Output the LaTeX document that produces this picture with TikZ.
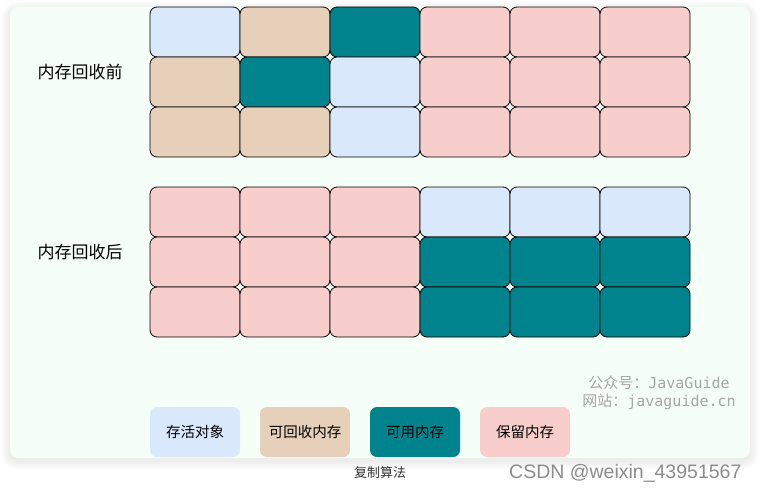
\documentclass[tikz,border=0pt]{standalone}
\usepackage{fontspec}
\setmainfont{Noto Sans CJK SC}
\newfontfamily\monofont{DejaVu Sans Mono}
\newfontfamily\csdnfont{Liberation Sans}
\usepackage{tikz}
\usetikzlibrary{positioning}

\definecolor{liveblue}{HTML}{DAE8FC}
\definecolor{freetan}{HTML}{E6D0B9}
\definecolor{usedteal}{HTML}{00838C}
\definecolor{keeppink}{HTML}{F8CECC}
\definecolor{panelgreen}{HTML}{F5FFF7}
\definecolor{markgray}{HTML}{A6A6A6}

\begin{document}
\begin{tikzpicture}[x=1pt,y=-1pt]

\tikzset{
  % one memory block of the grid
  cell/.style={draw=black, line width=0.8pt, rounded corners=7pt,
    minimum width=90pt, minimum height=50pt, inner sep=0pt, outer sep=0pt},
  % legend boxes below the grids
  legendbox/.style={rounded corners=7pt, minimum width=90pt, minimum height=50pt,
    inner sep=0pt, font=\fontsize{14.5}{16}\selectfont},
  rowlabel/.style={font=\fontsize{17}{19}\selectfont},
}

\useasboundingbox (0,0) rectangle (760,492);

% soft shadow and panel
\foreach \s in {1,...,9}
  \fill[black, opacity=0.008, rounded corners=8pt+\s pt] (10-\s,7-\s+3) rectangle (750+\s,458+\s+3);
\fill[panelgreen, rounded corners=8pt] (10,7) rectangle (750,458);

% grid before collection
\foreach \r/\list in {1/{liveblue,freetan,usedteal,keeppink,keeppink,keeppink},
                      2/{freetan,usedteal,liveblue,keeppink,keeppink,keeppink},
                      3/{freetan,freetan,liveblue,keeppink,keeppink,keeppink}}
  \foreach \c [count=\k] in \list
    \node[cell, fill=\c] (before-\r-\k) at (105+90*\k, -18+50*\r) {};

% grid after collection
\foreach \r/\list in {1/{keeppink,keeppink,keeppink,liveblue,liveblue,liveblue},
                      2/{keeppink,keeppink,keeppink,usedteal,usedteal,usedteal},
                      3/{keeppink,keeppink,keeppink,usedteal,usedteal,usedteal}}
  \foreach \c [count=\k] in \list
    \node[cell, fill=\c] (after-\r-\k) at (105+90*\k, 162+50*\r) {};

\node[rowlabel] (beforelabel) at (80,72) {内存回收前};
\node[rowlabel] (afterlabel) at (80,252) {内存回收后};

% legend
\node[legendbox, fill=liveblue] (live) at (195,432) {存活对象};
\node[legendbox, fill=freetan] (garbage) at (305,432) {可回收内存};
\node[legendbox, fill=usedteal] (usable) at (415,432) {可用内存};
\node[legendbox, fill=keeppink] (reserved) at (525,432) {保留内存};

% watermark and caption
\node[text=markgray, font=\fontsize{15}{17}\selectfont, inner sep=0pt] (wmone) at (659,383)
  {公众号：{\monofont JavaGuide}};
\node[text=markgray, font=\fontsize{15}{17}\selectfont, inner sep=0pt] (wmtwo) at (659,402)
  {网站：{\monofont javaguide.cn}};
\node[text=black!80, font=\fontsize{13}{15}\selectfont] (caption) at (380,473) {复制算法};
\node[text=black!45, font=\fontsize{19.5}{21}\csdnfont, anchor=west, inner sep=0pt] (csdn) at (509,473)
  {CSDN @weixin\_43951567};

\end{tikzpicture}
\end{document}
